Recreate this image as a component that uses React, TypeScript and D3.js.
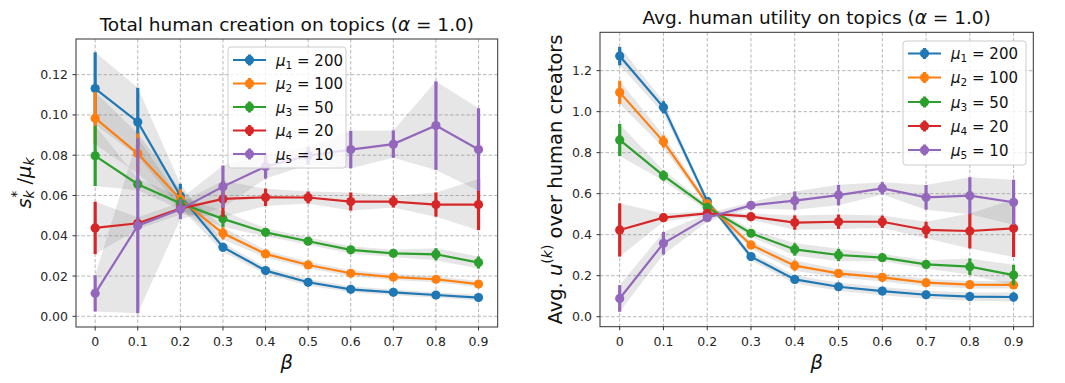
import React from "react";
import * as d3 from "d3";

// ---------- data ----------
const betas = [0, 0.1, 0.2, 0.3, 0.4, 0.5, 0.6, 0.7, 0.8, 0.9];
const betaTickLabels = ["0", "0.1", "0.2", "0.3", "0.4", "0.5", "0.6", "0.7", "0.8", "0.9"];
const muIndex = ["1", "2", "3", "4", "5"];
const muValues = ["200", "100", "50", "20", "10"];
const seriesColors = ["#1f77b4", "#ff7f0e", "#2ca02c", "#d62728", "#9467bd"];

// left panel: s*_k / mu_k
const leftBlue = [0.1131, 0.0965, 0.0598, 0.0343, 0.0227, 0.0169, 0.0134, 0.0119, 0.0106, 0.0093];
const leftBlueErr = [0.018, 0.017, 0.006, 0.0022, 0.0018, 0.0016, 0.0015, 0.0014, 0.0014, 0.0014];
const leftOrange = [0.0984, 0.0808, 0.0581, 0.0412, 0.031, 0.0255, 0.0214, 0.0195, 0.0184, 0.016];
const leftOrangeErr = [0.013, 0.01, 0.005, 0.003, 0.0018, 0.0016, 0.0015, 0.0015, 0.0015, 0.0015];
const leftGreen = [0.0797, 0.0656, 0.0561, 0.0484, 0.0417, 0.0373, 0.033, 0.0313, 0.0308, 0.0267];
const leftGreenErr = [0.015, 0.003, 0.003, 0.004, 0.002, 0.0018, 0.0018, 0.0018, 0.003, 0.003];
const leftRed = [0.0439, 0.0462, 0.0535, 0.0583, 0.0591, 0.059, 0.057, 0.057, 0.0555, 0.0555];
const leftRedErr = [0.013, 0.003, 0.003, 0.009, 0.0043, 0.003, 0.0045, 0.003, 0.006, 0.0127];
const leftPurple = [0.0114, 0.045, 0.0532, 0.0644, 0.0744, 0.0798, 0.0828, 0.0855, 0.0947, 0.0828];
const leftPurpleErr = [0.009, 0.0435, 0.005, 0.0105, 0.006, 0.0045, 0.0093, 0.0068, 0.022, 0.0205];
const leftYTicks = [0, 0.02, 0.04, 0.06, 0.08, 0.1, 0.12];
const leftYTickLabels = ["0.00", "0.02", "0.04", "0.06", "0.08", "0.10", "0.12"];

// right panel: avg utility
const rightBlue = [1.271, 1.021, 0.563, 0.293, 0.182, 0.146, 0.125, 0.107, 0.098, 0.096];
const rightBlueErr = [0.045, 0.03, 0.015, 0.018, 0.02, 0.02, 0.02, 0.02, 0.02, 0.022];
const rightOrange = [1.094, 0.854, 0.55, 0.35, 0.249, 0.211, 0.192, 0.166, 0.156, 0.155];
const rightOrangeErr = [0.057, 0.03, 0.015, 0.018, 0.025, 0.02, 0.02, 0.018, 0.018, 0.018];
const rightGreen = [0.862, 0.688, 0.533, 0.407, 0.328, 0.301, 0.288, 0.255, 0.244, 0.203];
const rightGreenErr = [0.078, 0.025, 0.015, 0.018, 0.03, 0.03, 0.018, 0.02, 0.04, 0.05];
const rightRed = [0.423, 0.483, 0.504, 0.488, 0.459, 0.463, 0.463, 0.423, 0.418, 0.431];
const rightRedErr = [0.13, 0.02, 0.01, 0.015, 0.035, 0.035, 0.03, 0.04, 0.085, 0.14];
const rightPurple = [0.089, 0.358, 0.483, 0.543, 0.566, 0.593, 0.626, 0.582, 0.59, 0.558];
const rightPurpleErr = [0.065, 0.055, 0.02, 0.015, 0.045, 0.05, 0.03, 0.06, 0.09, 0.11];
const rightYTicks = [0, 0.2, 0.4, 0.6, 0.8, 1.0, 1.2];
const rightYTickLabels = ["0.0", "0.2", "0.4", "0.6", "0.8", "1.0", "1.2"];

const FONT = "'DejaVu Sans', Verdana, sans-serif";

type Series = { values: number[]; errs: number[]; color: string };

type PanelProps = {
  left: number; right: number; top: number; bottom: number;
  yDomain: [number, number];
  yTicks: number[]; yTickLabels: string[];
  series: Series[];
  legend: { x: number; y: number; w: number; h: number; rowY: number[] };
  title: React.ReactNode; titleY: number;
  yLabel: React.ReactNode; yLabelX: number;
};

function Panel(p: PanelProps) {
  const x = d3.scaleLinear().domain([-0.045, 0.945]).range([p.left, p.right]);
  const y = d3.scaleLinear().domain(p.yDomain).range([p.bottom, p.top]);
  const line = d3.line<number>().x((_, i) => x(betas[i])).y((v) => y(v));
  const area = (s: Series) =>
    d3.area<number>()
      .x((_, i) => x(betas[i]))
      .y0((v, i) => y(v - s.errs[i]))
      .y1((v, i) => y(v + s.errs[i]))(s.values) || "";
  const cx = (p.left + p.right) / 2;
  const cy = (p.top + p.bottom) / 2;
  return (
    <g>
      {/* grid */}
      {betas.map((b, i) => (
        <line key={"gx" + i} x1={x(b)} x2={x(b)} y1={p.top} y2={p.bottom}
          stroke="#b0b0b0" strokeWidth={0.9} strokeDasharray="3.5,2" />
      ))}
      {p.yTicks.map((t, i) => (
        <line key={"gy" + i} x1={p.left} x2={p.right} y1={y(t)} y2={y(t)}
          stroke="#b0b0b0" strokeWidth={0.9} strokeDasharray="3.5,2" />
      ))}
      {/* bands */}
      {p.series.map((s, k) => (
        <path key={"band" + k} d={area(s)} fill="#808080" fillOpacity={0.2} stroke="none" />
      ))}
      {/* series */}
      {p.series.map((s, k) => (
        <g key={"s" + k}>
          <path d={line(s.values) || ""} fill="none" stroke={s.color} strokeWidth={2.2} />
          {s.values.map((v, i) => (
            <line key={"e" + i} x1={x(betas[i])} x2={x(betas[i])} y1={y(v - s.errs[i])} y2={y(v + s.errs[i])}
              stroke={s.color} strokeWidth={3.2} />
          ))}
          {s.values.map((v, i) => (
            <circle key={"c" + i} cx={x(betas[i])} cy={y(v)} r={4.6} fill={s.color} />
          ))}
        </g>
      ))}
      {/* frame */}
      <rect x={p.left} y={p.top} width={p.right - p.left} height={p.bottom - p.top}
        fill="none" stroke="#333" strokeWidth={1} />
      {/* x ticks */}
      {betas.map((b, i) => (
        <g key={"xt" + i}>
          <line x1={x(b)} x2={x(b)} y1={p.bottom} y2={p.bottom + 3.5} stroke="#333" strokeWidth={1} />
          <text x={x(b)} y={p.bottom + 19} textAnchor="middle" fontSize={12.5} fill="#262626" fontFamily={FONT}>
            {betaTickLabels[i]}
          </text>
        </g>
      ))}
      {/* y ticks */}
      {p.yTicks.map((t, i) => (
        <g key={"yt" + i}>
          <line x1={p.left - 3.5} x2={p.left} y1={y(t)} y2={y(t)} stroke="#333" strokeWidth={1} />
          <text x={p.left - 8} y={y(t) + 4.5} textAnchor="end" fontSize={12.5} fill="#262626" fontFamily={FONT}>
            {p.yTickLabels[i]}
          </text>
        </g>
      ))}
      {/* x label */}
      <text x={cx} y={p.bottom + 42} textAnchor="middle" fontSize={19.5} fontStyle="italic" fill="#111" fontFamily={FONT}>β</text>
      {/* y label */}
      <g transform={`translate(${p.yLabelX},${cy}) rotate(-90)`}>
        <text x={0} y={0} textAnchor="middle" fontSize={19.5} fill="#111" fontFamily={FONT} dominantBaseline="central">
          {p.yLabel}
        </text>
      </g>
      {/* title */}
      <text x={cx} y={p.titleY} textAnchor="middle" fontSize={18.5} fill="#111" fontFamily={FONT}>
        {p.title}
      </text>
      {/* legend */}
      <rect x={p.legend.x} y={p.legend.y} width={p.legend.w} height={p.legend.h} rx={3}
        fill="white" fillOpacity={0.8} stroke="#cccccc" strokeWidth={1} />
      {p.series.map((s, k) => {
        const ly = p.legend.rowY[k];
        const lx = p.legend.x + 5;
        return (
          <g key={"lg" + k}>
            <line x1={lx} x2={lx + 33} y1={ly} y2={ly} stroke={s.color} strokeWidth={2.2} />
            <line x1={lx + 16.5} x2={lx + 16.5} y1={ly - 5.5} y2={ly + 5.5} stroke={s.color} strokeWidth={3.2} />
            <circle cx={lx + 16.5} cy={ly} r={4.6} fill={s.color} />
            <text x={lx + 43} y={ly + 5.5} fontSize={15} fill="#111" fontFamily={FONT}>
              <tspan fontStyle="italic">μ</tspan>
              <tspan fontSize={10.5} dy={3}>{muIndex[k]}</tspan>
              <tspan dy={-3}>{" = " + muValues[k]}</tspan>
            </text>
          </g>
        );
      })}
    </g>
  );
}

function makeSeries(vals: number[][], errs: number[][]): Series[] {
  return vals.map((v, i) => ({ values: v, errs: errs[i], color: seriesColors[i] }));
}

export default function App() {
  const leftSeries = makeSeries(
    [leftBlue, leftOrange, leftGreen, leftRed, leftPurple],
    [leftBlueErr, leftOrangeErr, leftGreenErr, leftRedErr, leftPurpleErr]
  );
  const rightSeries = makeSeries(
    [rightBlue, rightOrange, rightGreen, rightRed, rightPurple],
    [rightBlueErr, rightOrangeErr, rightGreenErr, rightRedErr, rightPurpleErr]
  );
  return (
    <svg width={1065} height={383} style={{ position: "absolute", left: 0, top: 0, background: "white" }}>
      <rect width={1065} height={383} fill="white" />
      <Panel
        left={76} right={497.7} top={39} bottom={327}
        yDomain={[-0.0053, 0.1377]}
        yTicks={leftYTicks} yTickLabels={leftYTickLabels}
        series={leftSeries}
        legend={{ x: 228, y: 47, w: 118, h: 121, rowY: [60, 83.5, 107, 130.5, 154] }}
        title={<>Total human creation on topics (<tspan fontStyle="italic">α</tspan> = 1.0)</>}
        titleY={30.5}
        yLabel={<>
          <tspan fontStyle="italic">s</tspan>
          <tspan fontSize={14} dy={4.5} fontStyle="italic">k</tspan>
          <tspan fontSize={14} dx={-7.5} dy={-12.5}>*</tspan>
          <tspan dy={8}>{" /"}</tspan>
          <tspan fontStyle="italic">μ</tspan>
          <tspan fontSize={14} dy={4.5} fontStyle="italic">k</tspan>
        </>}
        yLabelX={24}
      />
      <Panel
        left={600} right={1033.3} top={32.3} bottom={326.7}
        yDomain={[-0.0488, 1.387]}
        yTicks={rightYTicks} yTickLabels={rightYTickLabels}
        series={rightSeries}
        legend={{ x: 903, y: 41, w: 123, h: 124, rowY: [53.5, 77.5, 102, 126, 150] }}
        title={<>Avg. human utility on topics (<tspan fontStyle="italic">α</tspan> = 1.0)</>}
        titleY={24}
        yLabel={<>
          {"Avg. "}
          <tspan fontStyle="italic">u</tspan>
          <tspan fontSize={14} dy={-8}>(</tspan>
          <tspan fontSize={14} fontStyle="italic">k</tspan>
          <tspan fontSize={14}>)</tspan>
          <tspan dy={8}>{" over human creators"}</tspan>
        </>}
        yLabelX={555}
      />
    </svg>
  );
}
